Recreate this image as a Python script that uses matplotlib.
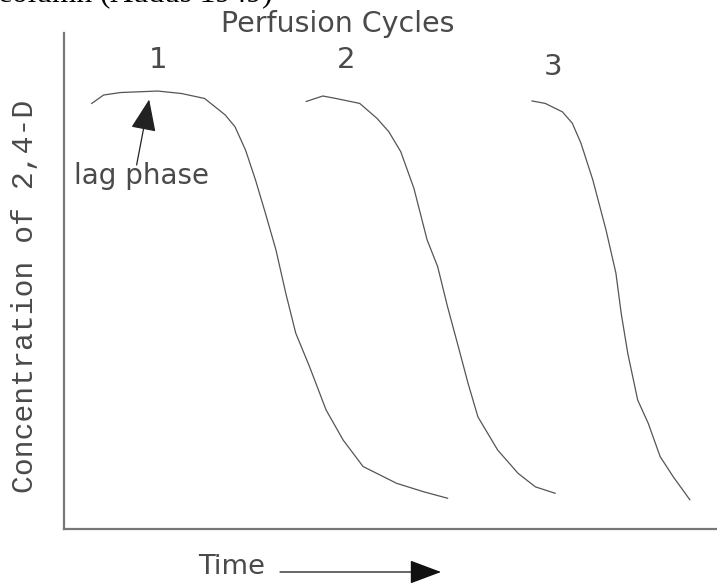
import matplotlib
matplotlib.use("Agg")
import matplotlib.pyplot as plt

W, H = 717, 585

# Perfusion cycle curves (time 0-100, concentration 0-100, arbitrary units)
c1_time = [4.2, 6.0, 8.6, 14.2, 17.8, 21.3, 24.4, 25.9, 27.5, 29.0, 30.5, 32.1,
           33.6, 35.1, 37.2, 39.7, 42.3, 45.3, 50.4, 54.5, 58.1]
c1_conc = [85.8, 87.5, 88.0, 88.3, 87.8, 86.8, 83.5, 81.1, 76.4, 70.4, 63.7, 56.3,
           47.5, 39.5, 32.7, 24.0, 17.9, 12.6, 9.2, 7.5, 6.2]
c2_time = [36.7, 39.2, 41.2, 44.8, 47.4, 49.2, 51.0, 53.0, 55.0, 56.6, 58.1, 59.6,
           61.2, 62.7, 65.7, 68.8, 71.4, 74.4]
c2_conc = [86.2, 87.3, 86.8, 85.8, 82.8, 80.1, 76.1, 68.7, 58.3, 52.9, 44.8, 37.4,
           29.4, 22.6, 15.9, 11.2, 8.5, 7.2]
c3_time = [70.9, 72.9, 75.5, 77.0, 78.3, 80.1, 82.1, 83.6, 84.4, 85.4, 86.9, 88.5,
           90.3, 92.3, 94.8]
c3_conc = [86.3, 85.8, 84.1, 81.8, 77.8, 70.4, 60.3, 51.6, 43.5, 35.4, 26.0, 21.3,
           14.6, 10.5, 5.9]

cycle_labels = ["1", "2", "3"]

fig = plt.figure(figsize=(W / 100, H / 100), dpi=100)
ax = fig.add_axes([64 / W, (H - 529) / H, (W - 64) / W + 0.01, 496 / H])
ax.set_xlim(0, 100)
ax.set_ylim(0, 100)

line_kw = dict(color="#555555", lw=0.9)
ax.plot(c1_time, c1_conc, **line_kw)
ax.plot(c2_time, c2_conc, **line_kw)
ax.plot(c3_time, c3_conc, **line_kw)

for s in ["top", "right"]:
    ax.spines[s].set_visible(False)
for s in ["left", "bottom"]:
    ax.spines[s].set_color("#777777")
    ax.spines[s].set_linewidth(1.6)
ax.set_xticks([])
ax.set_yticks([])

txt_col = "#4a4a4a"
sans = "DejaVu Sans"

def fx(px):
    return px / W

def fy(py):
    return 1 - py / H

# lag phase arrow
ax.annotate("", xy=(12.9, 86.6), xytext=(11.0, 73.4),
            arrowprops=dict(arrowstyle="-|>,head_length=2.0,head_width=0.8",
                            mutation_scale=10, color="#222222", lw=0.9,
                            shrinkA=0, shrinkB=0))
fig.text(fx(141), fy(176), "lag phase", ha="center", va="center",
         fontsize=20, color=txt_col, family=sans)

# titles / labels
fig.text(fx(338), fy(24), "Perfusion Cycles", ha="center", va="center",
         fontsize=20.5, color=txt_col, family=sans)
label_pos = [(158, 60), (346, 60), (553, 67)]
for lab, (px, py) in zip(cycle_labels, label_pos):
    fig.text(fx(px), fy(py), lab, ha="center", va="center",
             fontsize=21, color=txt_col, family=sans)

fig.text(fx(25), fy(296), "Concentration of 2,4-D", rotation=90,
         ha="center", va="center", fontsize=21.4, color=txt_col,
         family="Liberation Mono")

fig.text(fx(232), fy(567), "Time", ha="center", va="center",
         fontsize=19.7, color=txt_col, family=sans)
ax.annotate("", xy=(441, H - 572), xytext=(280, H - 572),
            xycoords="figure pixels", textcoords="figure pixels",
            arrowprops=dict(arrowstyle="-|>,head_length=2.0,head_width=0.75",
                            mutation_scale=10, color="#111111", lw=0.9,
                            shrinkA=0, shrinkB=0))

# clipped caption at the very top (cut off in the original figure too)
fig.text(fx(-2), fy(2), "column (Audus 1949)", ha="left", va="baseline",
         fontsize=22.5, color="black", family="Liberation Serif")

fig.savefig("out.png", dpi=100)
